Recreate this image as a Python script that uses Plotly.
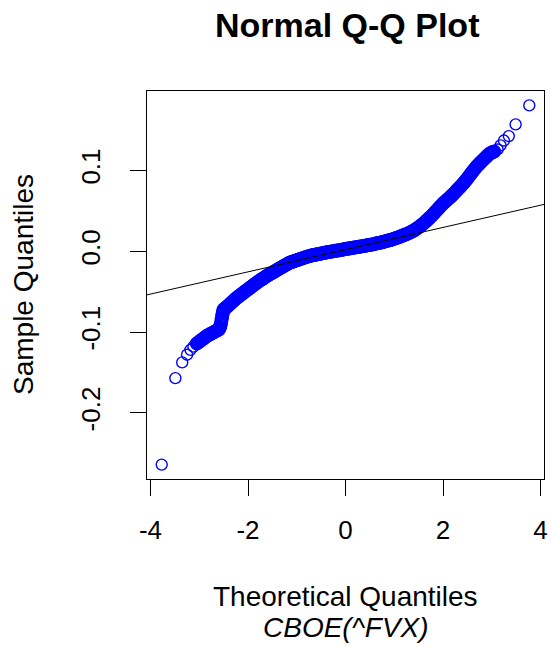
import plotly.graph_objects as go

# ---- data ----
# isolated points of the lower tail (theoretical quantile, sample quantile)
tail_low_x = [-3.77, -3.49, -3.35, -3.25, -3.18, -3.12]
tail_low_y = [-0.264, -0.157, -0.1375, -0.128, -0.122, -0.118]

# dense band of points (theoretical quantile, sample quantile)
band_x = [
    -3.050, -3.025, -3.000, -2.975, -2.950, -2.925, -2.900, -2.875, -2.850, -2.825,
    -2.800, -2.775, -2.750, -2.725, -2.700, -2.675, -2.650, -2.625, -2.600,
    -2.590, -2.580, -2.570, -2.560, -2.550, -2.540, -2.530, -2.520, -2.510,
    -2.500, -2.475, -2.450, -2.425, -2.400, -2.375, -2.350, -2.325, -2.300, -2.275,
    -2.250, -2.225, -2.200, -2.175, -2.150, -2.125, -2.100, -2.075, -2.050, -2.025,
    -2.000, -1.975, -1.950, -1.925, -1.900, -1.875, -1.850, -1.825, -1.800, -1.775,
    -1.750, -1.725, -1.700, -1.675, -1.650, -1.625, -1.600, -1.575, -1.550, -1.525,
    -1.500, -1.475, -1.450, -1.425, -1.400, -1.375, -1.350, -1.325, -1.300, -1.275,
    -1.250, -1.225, -1.200, -1.175, -1.150, -1.125, -1.100, -1.075, -1.050, -1.025,
    -1.000, -0.975, -0.950, -0.925, -0.900, -0.875, -0.850, -0.825, -0.800, -0.775,
    -0.750, -0.725, -0.700, -0.675, -0.650, -0.625, -0.600, -0.575, -0.550, -0.525,
    -0.500, -0.475, -0.450, -0.425, -0.400, -0.375, -0.350, -0.325, -0.300, -0.275,
    -0.250, -0.225, -0.200, -0.175, -0.150, -0.125, -0.100, -0.075, -0.050, -0.025,
    0.000, 0.025, 0.050, 0.075, 0.100, 0.125, 0.150, 0.175, 0.200, 0.225,
    0.250, 0.275, 0.300, 0.325, 0.350, 0.375, 0.400, 0.425, 0.450, 0.475,
    0.500, 0.525, 0.550, 0.575, 0.600, 0.625, 0.650, 0.675, 0.700, 0.725,
    0.750, 0.775, 0.800, 0.825, 0.850, 0.875, 0.900, 0.925, 0.950, 0.975,
    1.000, 1.025, 1.050, 1.075, 1.100, 1.125, 1.150, 1.175, 1.200, 1.225,
    1.250, 1.275, 1.300, 1.325, 1.350, 1.375, 1.400, 1.425, 1.450, 1.475,
    1.500, 1.525, 1.550, 1.575, 1.600, 1.625, 1.650, 1.675, 1.700, 1.725,
    1.750, 1.775, 1.800, 1.825, 1.850, 1.875, 1.900, 1.925, 1.950, 1.975,
    2.000, 2.025, 2.050, 2.075, 2.100, 2.125, 2.150, 2.175, 2.200, 2.225,
    2.250, 2.275, 2.300, 2.325, 2.350, 2.375, 2.400, 2.425, 2.450, 2.475,
    2.500, 2.525, 2.550, 2.575, 2.600, 2.625, 2.650, 2.675, 2.700, 2.725,
    2.750, 2.775, 2.800, 2.825, 2.850, 2.875, 2.900, 2.925, 2.950, 2.975,
    3.000, 3.025, 3.050]
band_y = [
    -0.1141, -0.1131, -0.1120, -0.1108, -0.1097, -0.1085, -0.1073, -0.1062, -0.1050, -0.1042,
    -0.1033, -0.1025, -0.1017, -0.1008, -0.1000, -0.0993, -0.0985, -0.0978, -0.0970,
    -0.0960, -0.0948, -0.0930, -0.0905, -0.0875, -0.0840, -0.0805, -0.0770, -0.0745,
    -0.0720, -0.0708, -0.0695, -0.0683, -0.0670, -0.0656, -0.0642, -0.0628, -0.0614, -0.0600,
    -0.0586, -0.0574, -0.0562, -0.0551, -0.0539, -0.0528, -0.0516, -0.0505, -0.0493, -0.0482,
    -0.0470, -0.0459, -0.0448, -0.0437, -0.0425, -0.0414, -0.0402, -0.0391, -0.0380, -0.0370,
    -0.0360, -0.0350, -0.0340, -0.0330, -0.0320, -0.0310, -0.0300, -0.0291, -0.0282, -0.0274,
    -0.0265, -0.0256, -0.0247, -0.0239, -0.0230, -0.0221, -0.0212, -0.0203, -0.0194, -0.0186,
    -0.0177, -0.0169, -0.0160, -0.0151, -0.0143, -0.0137, -0.0132, -0.0126, -0.0121, -0.0116,
    -0.0111, -0.0106, -0.0101, -0.0096, -0.0091, -0.0085, -0.0080, -0.0075, -0.0070, -0.0065,
    -0.0061, -0.0057, -0.0053, -0.0049, -0.0046, -0.0043, -0.0040, -0.0037, -0.0034, -0.0031,
    -0.0028, -0.0025, -0.0022, -0.0019, -0.0016, -0.0013, -0.0010, -0.0007, -0.0005, -0.0002,
    0.0000, 0.0003, 0.0005, 0.0008, 0.0010, 0.0013, 0.0016, 0.0019, 0.0022, 0.0025,
    0.0027, 0.0030, 0.0033, 0.0035, 0.0038, 0.0040, 0.0043, 0.0045, 0.0048, 0.0050,
    0.0053, 0.0055, 0.0058, 0.0060, 0.0063, 0.0065, 0.0068, 0.0070, 0.0073, 0.0076,
    0.0079, 0.0082, 0.0085, 0.0088, 0.0092, 0.0095, 0.0098, 0.0101, 0.0105, 0.0108,
    0.0112, 0.0116, 0.0120, 0.0124, 0.0128, 0.0132, 0.0136, 0.0140, 0.0145, 0.0150,
    0.0155, 0.0160, 0.0165, 0.0170, 0.0176, 0.0182, 0.0188, 0.0194, 0.0200, 0.0206,
    0.0212, 0.0218, 0.0225, 0.0232, 0.0240, 0.0248, 0.0257, 0.0266, 0.0276, 0.0286,
    0.0297, 0.0308, 0.0320, 0.0332, 0.0345, 0.0358, 0.0372, 0.0386, 0.0400, 0.0414,
    0.0428, 0.0444, 0.0460, 0.0476, 0.0493, 0.0509, 0.0525, 0.0541, 0.0558, 0.0574,
    0.0590, 0.0603, 0.0617, 0.0631, 0.0645, 0.0658, 0.0672, 0.0686, 0.0700, 0.0716,
    0.0732, 0.0748, 0.0764, 0.0780, 0.0796, 0.0812, 0.0828, 0.0845, 0.0863, 0.0882,
    0.0902, 0.0921, 0.0941, 0.0960, 0.0980, 0.1000, 0.1019, 0.1038, 0.1056, 0.1071,
    0.1086, 0.1101, 0.1116, 0.1131, 0.1146, 0.1161, 0.1176, 0.1191, 0.1205, 0.1214,
    0.1223, 0.1229, 0.1235]

# isolated points of the upper tail
tail_high_x = [3.12, 3.18, 3.25, 3.35, 3.49, 3.77]
tail_high_y = [0.126, 0.131, 0.137, 0.1425, 0.157, 0.1805]

# reference line (qqline)
line_intercept = 0.002
line_slope = 0.01374

# axes
x_range = [-4.072, 4.072]
y_range = [-0.2818, 0.1983]
x_ticks = [-4, -2, 0, 2, 4]
x_ticklabels = ["-4", "-2", "0", "2", "4"]
y_ticks = [-0.2, -0.1, 0.0, 0.1]
y_ticklabels = ["-0.2", "-0.1", "0.0", "0.1"]

title_text = "Normal Q-Q Plot"
x_title = "Theoretical Quantiles"
sub_title = "CBOE(^FVX)"
y_title = "Sample Quantiles"

FONT = "Liberation Sans, Arial, sans-serif"
BLUE = "#0000FF"

fig = go.Figure()
# sparse tail points
fig.add_trace(go.Scatter(
    x=tail_low_x + tail_high_x, y=tail_low_y + tail_high_y, mode="markers",
    marker=dict(symbol="circle-open", size=11, color=BLUE,
                line=dict(width=1.4, color=BLUE)),
    hoverinfo="skip"))
# dense overlapping band of points
fig.add_trace(go.Scatter(
    x=band_x, y=band_y, mode="markers",
    marker=dict(symbol="circle-open", size=12, color=BLUE,
                line=dict(width=2.0, color=BLUE)),
    hoverinfo="skip"))
fig.add_trace(go.Scatter(
    x=x_range, y=[line_intercept + line_slope * v for v in x_range],
    mode="lines", line=dict(color="black", width=1), hoverinfo="skip"))

axis_common = dict(showgrid=False, zeroline=False, showline=True, linecolor="black",
                   linewidth=1, mirror=True, ticks="outside", ticklen=16,
                   tickwidth=1, tickcolor="black", ticklabeloverflow="allow",
                   tickfont=dict(family=FONT, size=26, color="black"))

fig.update_xaxes(range=x_range, tickvals=x_ticks, ticktext=x_ticklabels,
                 ticklabelstandoff=12, **axis_common)
fig.update_yaxes(range=y_range, tickvals=y_ticks, ticktext=y_ticklabels,
                 tickangle=-90, ticklabelstandoff=20, **axis_common)

fig.update_layout(
    width=551, height=647,
    margin=dict(l=147, r=3, t=91, b=168),
    plot_bgcolor="white", paper_bgcolor="white",
    showlegend=False,
    font=dict(family=FONT, color="black"),
    annotations=[
        dict(text="<b>" + title_text + "</b>", xref="paper", yref="paper",
             x=0.505, y=1, yshift=66, xanchor="center", yanchor="middle",
             showarrow=False, font=dict(family=FONT, size=34, color="black")),
        dict(text=x_title, xref="paper", yref="paper", x=0.5, y=0, yshift=-117,
             xanchor="center", yanchor="middle", showarrow=False,
             font=dict(family=FONT, size=28, color="black")),
        dict(text="<i>" + sub_title + "</i>", xref="paper", yref="paper", x=0.5, y=0,
             yshift=-148, xanchor="center", yanchor="middle", showarrow=False,
             font=dict(family=FONT, size=28, color="black")),
        dict(text=y_title, xref="paper", yref="paper", x=0, y=0.5, xshift=-124,
             textangle=-90, xanchor="center", yanchor="middle", showarrow=False,
             font=dict(family=FONT, size=28, color="black")),
    ],
)

fig.write_html("out.html")
